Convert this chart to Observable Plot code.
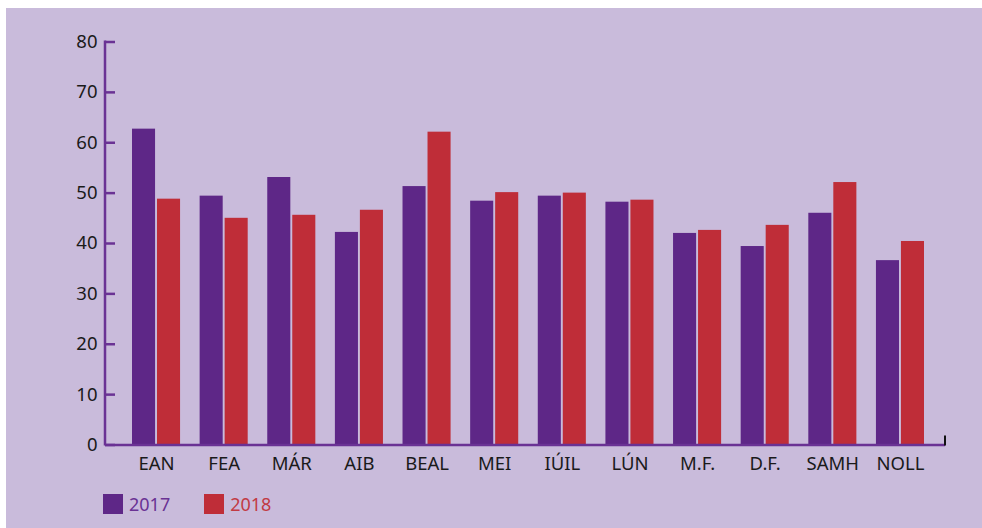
<!DOCTYPE html>
<html>
<head>
<meta charset="utf-8">
<script src="https://cdn.jsdelivr.net/npm/d3@7"></script>
<script src="https://cdn.jsdelivr.net/npm/@observablehq/plot@0.6"></script>
<style>
  html, body { margin: 0; padding: 0; background: #ffffff; }
  #wrap { position: relative; width: 982px; height: 528px; overflow: hidden; }
  #panel { position: absolute; left: 6px; top: 8px; right: 0; bottom: 0; background: #c9bbdb; }
  #chart { position: absolute; left: 0; top: 0; }
  #legend { position: absolute; left: 103px; top: 492px; display: flex; align-items: center;
            font-family: "Noto Sans", sans-serif; font-size: 18px; }
  .item { display: flex; align-items: center; margin-right: 34px; }
  .sw { width: 20px; height: 20px; margin-right: 6px; }
</style>
</head>
<body>
<div id="wrap">
  <div id="panel"></div>
  <div id="chart"></div>
  <div id="legend"></div>
</div>
<script>
const months = ["EAN", "FEA", "MÁR", "AIB", "BEAL", "MEI", "IÚIL", "LÚN", "M.F.", "D.F.", "SAMH", "NOLL"];
const series = ["2017", "2018"];
const values2017 = [62.7, 49.4, 53.1, 42.2, 51.3, 48.4, 49.4, 48.2, 42.0, 39.4, 46.0, 36.6];
const values2018 = [48.8, 45.0, 45.6, 46.6, 62.1, 50.1, 50.0, 48.6, 42.6, 43.6, 52.1, 40.4];
const yTicks = [0, 10, 20, 30, 40, 50, 60, 70, 80];

const colors = {"2017": "#5e2787", "2018": "#bf2d38"};
const axisPurple = "#6a3294";

const data2017 = months.map((m, i) => ({month: m, year: "2017", value: values2017[i]}));
const data2018 = months.map((m, i) => ({month: m, year: "2018", value: values2018[i]}));

const W = 982, H = 480;

// vertical axis line on the left edge of the frame, spanning the y domain
function yAxisLine(index, scales, values, dimensions) {
  const g = d3.create("svg:g");
  const x = dimensions.marginLeft;
  g.append("line").attr("x1", x).attr("x2", x)
    .attr("y1", scales.y(yTicks[yTicks.length - 1]) - 1).attr("y2", scales.y(0) + 1)
    .attr("stroke", axisPurple).attr("stroke-width", 2.5);
  return g.node();
}

// small black end tick at the right end of the baseline
function endTick(index, scales, values, dimensions) {
  const g = d3.create("svg:g");
  const x = dimensions.width - dimensions.marginRight;
  const y0 = scales.y(0);
  g.append("line").attr("x1", x).attr("x2", x).attr("y1", y0 - 9).attr("y2", y0 + 1)
    .attr("stroke", "#111").attr("stroke-width", 2);
  return g.node();
}

const chart = Plot.plot({
  width: W,
  height: H,
  marginLeft: 105,
  marginRight: 37,
  marginTop: 41.5,
  marginBottom: 35.5,
  style: {background: "transparent", fontFamily: "'Noto Sans', sans-serif", fontSize: "18px", color: "#1a1a1a"},
  x: {domain: months, range: [132, 924], paddingInner: 0.2894, paddingOuter: 0, round: false, label: null},
  y: {domain: [0, 80], label: null},
  marks: [
    Plot.barY(data2017, {x: "month", y: "value", fill: colors["2017"], insetRight: 25}),
    Plot.barY(data2018, {x: "month", y: "value", fill: colors["2018"], insetLeft: 25}),
    Plot.ruleY(yTicks, {y: d => d, stroke: axisPurple, strokeWidth: 2.5, insetRight: 830}),
    Plot.ruleY([0], {stroke: axisPurple, strokeWidth: 2.5}),
    yAxisLine,
    Plot.axisY({ticks: yTicks, tickSize: 0, tickPadding: 8, fill: "#1a1a1a", fontSize: 18.5, label: null}),
    Plot.axisX({tickSize: 0, tickPadding: 12, fill: "#1a1a1a", fontSize: 18.5, label: null}),
    endTick
  ]
});
document.getElementById("chart").appendChild(chart);

const legend = document.getElementById("legend");
series.forEach(s => {
  const item = document.createElement("div");
  item.className = "item";
  const sw = document.createElement("div");
  sw.className = "sw";
  sw.style.background = colors[s];
  const t = document.createElement("span");
  t.textContent = s;
  t.style.color = s === "2017" ? "#6a3294" : "#c23a44";
  item.appendChild(sw);
  item.appendChild(t);
  legend.appendChild(item);
});
</script>
</body>
</html>
